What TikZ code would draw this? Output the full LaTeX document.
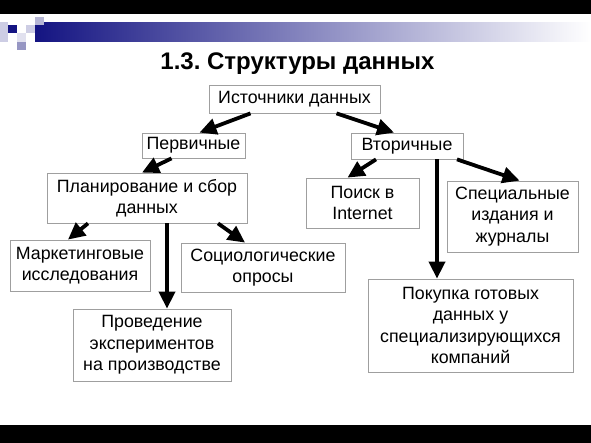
\documentclass[tikz,border=0pt]{standalone}
\usepackage{fontspec}
\setmainfont{Liberation Sans}
\usetikzlibrary{arrows.meta}
\frenchspacing

\definecolor{navy}{RGB}{20,20,130}
\definecolor{lav}{RGB}{205,205,228}
\definecolor{midlav}{RGB}{150,150,195}

\tikzset{
  box/.style={draw=gray!75, line width=0.8pt, align=center, inner sep=0pt,
    font=\fontsize{17.8}{21.5}\selectfont},
  link/.style={line width=3.8pt, -{Triangle[length=17pt,width=16pt]}}
}

\begin{document}
\begin{tikzpicture}[x=1pt, y=-1pt]

		\useasboundingbox (0, 0) rectangle (591, 443);
		
		% frame of the slide
		\fill [black] (0, 0) rectangle (591, 14);
		\fill [black] (0, 425) rectangle (591, 443);
		\shade [left color=navy, right color=white] (35, 23) rectangle (591, 42);
		\fill [lav] (0, 22) rectangle (8, 42);
		\fill [navy] (8, 25) rectangle (17, 33);
		\fill [lav] (26, 25) rectangle (35, 33);
		\fill [midlav!70] (35, 17) rectangle (44, 25);
		\fill [lav!60] (17, 33) rectangle (26, 42);
		\fill [midlav] (17, 42) rectangle (26, 50);
		
		\node (title) at (297.5, 64) {\bfseries\fontsize{24}{28}\selectfont 1.3. Структуры данных};
		
		% boxes
		\node [box, minimum width=171pt, minimum height=28pt] (ist) at (294.5, 99) {Источники данных};
		\node [box, minimum width=103pt, minimum height=25pt] (per) at (193.5, 145.5) {Первичные};
		\node [box, minimum width=112pt, minimum height=26pt] (vto) at (407, 146) {Вторичные};
		
		\node [box, minimum width=200pt, minimum height=50pt] (plan) at (147, 198) {Планирование и сбор\\данных};
		\node [box, minimum width=140pt, minimum height=51pt] (mark) at (80, 265.5) {Маркетинговые\\исследования};
		\node [box, minimum width=164pt, minimum height=49pt] (soc) at (263, 267.5) {Социологические\\опросы};
		\node [box, minimum width=158pt, minimum height=72pt] (prov) at (152, 345) {Проведение\\экспериментов\\на производстве};
		
		\node [box, minimum width=113pt, minimum height=50pt] (poisk) at (362.5, 203) {Поиск в\\Internet};
		\node [box, minimum width=131pt, minimum height=71pt] (spec) at (512.5, 216.5) {Специальные\\издания и\\журналы};
		\node [box, minimum width=205pt, minimum height=93pt] (pok) at (470.5, 325.5) {Покупка готовых\\данных у\\специализирующихся\\компаний};
		
		% arrows
		\draw [link] ([xshift=-44pt]ist.south) -- ([xshift=6pt]per.north);
		\draw [link] ([xshift=42pt]ist.south) -- ([xshift=-13pt]vto.north);
		
		\draw [link] ([xshift=-22pt]per.south) -- ([xshift=-5pt]plan.north);
		\draw [link] ([xshift=-59pt]plan.south) -- ([xshift=-12pt]mark.north);
		\draw [link] ([xshift=20pt]plan.south) -- ([xshift=15pt]prov.north);
		\draw [link] ([xshift=71pt]plan.south) -- ([xshift=-18pt]soc.north);
		
		\draw [link] ([xshift=-31pt]vto.south) -- ([xshift=-15pt]poisk.north);
		\draw [link] ([xshift=50pt]vto.south) -- ([xshift=7pt]spec.north);
		\draw [link] ([xshift=30pt]vto.south) -- ([xshift=-33.5pt]pok.north);
		
\end{tikzpicture}
\end{document}
